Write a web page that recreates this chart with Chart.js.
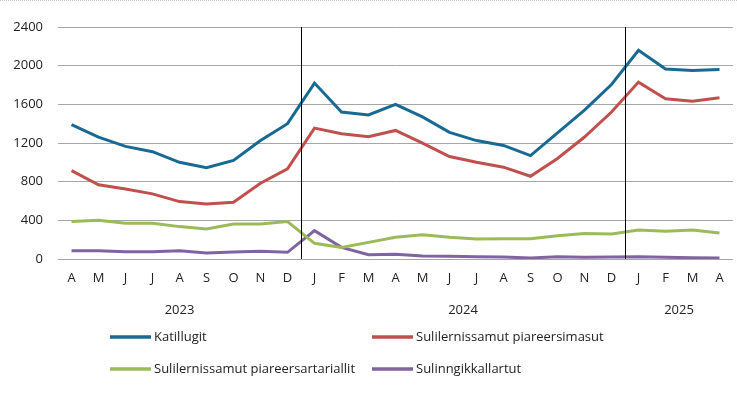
<!DOCTYPE html>
<html>
<head>
<meta charset="utf-8">
<script src="https://cdn.jsdelivr.net/npm/chart.js@4.4.1/dist/chart.umd.min.js"></script>
<style>
  html, body { margin: 0; padding: 0; background: #fff; }
  #wrap { position: relative; width: 737px; height: 396px; border-top: 1px dotted #c8c8c8; box-sizing: border-box; }
</style>
</head>
<body>
<div id="wrap"><canvas id="chart" width="737" height="395"></canvas></div>
<script>
// months Apr 2023 - Apr 2025
const months = ['A','M','J','J','A','S','O','N','D','J','F','M','A','M','J','J','A','S','O','N','D','J','F','M','A'];
const years = [
  { label: '2023', from: 0, to: 8 },
  { label: '2024', from: 9, to: 20 },
  { label: '2025', from: 21, to: 24 }
];
const yTicks = [0, 400, 800, 1200, 1600, 2000, 2400];

const katillugit = [1390, 1260, 1165, 1110, 1000, 945, 1020, 1225, 1400, 1820, 1520, 1490, 1600, 1470, 1310, 1225, 1175, 1070, 1305, 1540, 1805, 2160, 1965, 1950, 1960];
const piareersimasut = [915, 768, 725, 674, 594, 570, 587, 784, 933, 1354, 1295, 1265, 1330, 1198, 1060, 1000, 950, 856, 1040, 1262, 1520, 1830, 1658, 1633, 1668];
const piareersartariallit = [387, 402, 369, 369, 335, 311, 363, 363, 387, 162, 120, 172, 224, 252, 224, 207, 210, 210, 241, 265, 259, 300, 286, 300, 269];
const sulinngikkallartut = [86, 86, 76, 76, 86, 62, 72, 79, 69, 293, 120, 45, 50, 31, 28, 24, 21, 10, 24, 17, 21, 24, 17, 14, 10];

const seriesNames = ['Katillugit', 'Sulilernissamut piareersimasut', 'Sulilernissamut piareersartariallit', 'Sulinngikkallartut'];
const seriesColors = ['#186a92', '#c0504d', '#9bbb59', '#8064a2'];
const seriesData = [katillugit, piareersimasut, piareersartariallit, sulinngikkallartut];

const FONT = '"Open Sans", sans-serif';

// year dividers, year labels and legend
const extras = {
  id: 'extras',
  afterDatasetsDraw(chart) {
    const ctx = chart.ctx;
    const x = chart.scales.x;
    const area = chart.chartArea;
    ctx.save();
    ctx.strokeStyle = '#000';
    ctx.lineWidth = 1;
    [8, 20].forEach(i => {
      const px = Math.round((x.getPixelForValue(i) + x.getPixelForValue(i + 1)) / 2) + 0.5;
      ctx.beginPath();
      ctx.moveTo(px, area.top);
      ctx.lineTo(px, area.bottom);
      ctx.stroke();
    });

    ctx.fillStyle = '#222';
    ctx.font = '13px ' + FONT;
    ctx.textAlign = 'center';
    ctx.textBaseline = 'middle';
    const step = x.getPixelForValue(1) - x.getPixelForValue(0);
    years.forEach(y => {
      const left = x.getPixelForValue(y.from) - step / 2;
      const right = x.getPixelForValue(y.to) + step / 2;
      ctx.fillText(y.label, (left + right) / 2, 309);
    });

    const cols = [110, 372];
    const rows = [336, 368];
    ctx.textAlign = 'left';
    seriesNames.forEach((name, i) => {
      const lx = cols[i % 2];
      const ly = rows[Math.floor(i / 2)];
      ctx.strokeStyle = seriesColors[i];
      ctx.lineWidth = 3.5;
      ctx.beginPath();
      ctx.moveTo(lx, ly);
      ctx.lineTo(lx + 41, ly);
      ctx.stroke();
      ctx.fillStyle = '#222';
      ctx.fillText(name, lx + 44, ly);
    });
    ctx.restore();
  }
};

new Chart(document.getElementById('chart'), {
  type: 'line',
  data: {
    labels: months,
    datasets: seriesData.map((d, i) => ({
      label: seriesNames[i],
      data: d,
      borderColor: seriesColors[i],
      backgroundColor: seriesColors[i],
      borderWidth: 3,
      pointRadius: 0,
      tension: 0,
      fill: false
    }))
  },
  options: {
    responsive: false,
    animation: false,
    layout: { padding: { top: 26, right: 4, left: 0, bottom: 0 } },
    plugins: {
      legend: { display: false },
      tooltip: { enabled: false }
    },
    scales: {
      x: {
        offset: true,
        grid: { display: false, drawTicks: false },
        border: { display: false },
        ticks: { color: '#222', font: { family: FONT, size: 13 }, padding: 11, maxRotation: 0, autoSkip: false },
        afterFit: s => { s.height = 137; }
      },
      y: {
        min: 0,
        max: 2400,
        afterBuildTicks: s => { s.ticks = yTicks.map(v => ({ value: v })); },
        grid: { color: '#a6a6a6', lineWidth: 1, drawTicks: false },
        border: { display: false },
        ticks: { color: '#222', font: { family: FONT, size: 13 }, padding: 15, callback: v => String(v) },
        afterFit: s => { s.width = 58; }
      }
    }
  },
  plugins: [extras]
});
</script>
</body>
</html>
